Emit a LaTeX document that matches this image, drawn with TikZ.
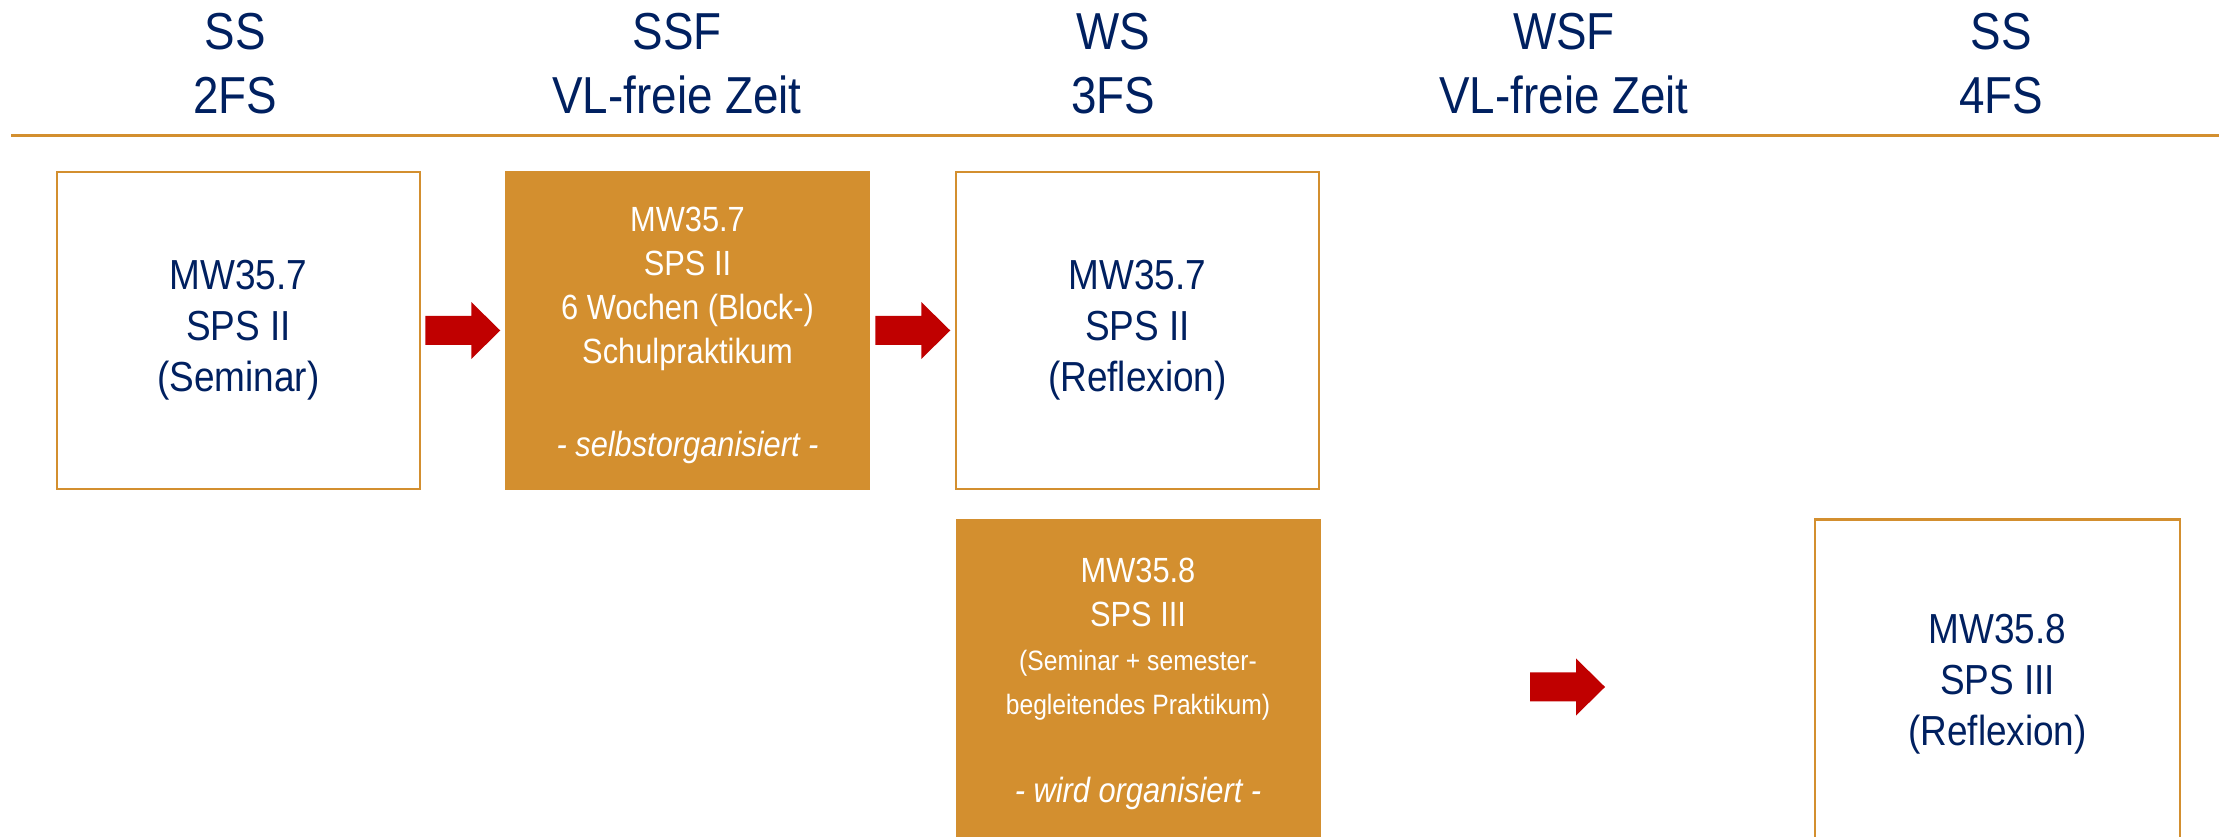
\documentclass[tikz,border=0pt]{standalone}
\usepackage{fontspec}
\setmainfont[FakeStretch=0.88]{Liberation Sans}
\usetikzlibrary{calc}
\definecolor{navy}{HTML}{002060}
\definecolor{gold}{HTML}{D38F2F}
\definecolor{arrowred}{HTML}{C00000}
\begin{document}
\begin{tikzpicture}[x=0.3pt,y=-0.3pt,
 hdr/.style={text=navy, align=center, font=\fontsize{15.6}{19.2}\selectfont, inner sep=0pt},
 openbox/.style={draw=gold, line width=0.7pt, fill=white, text=navy, align=center,
   font=\fontsize{12.6}{15.3}\selectfont, minimum width=108.9pt, minimum height=95.1pt, inner sep=0pt},
 fullbox/.style={fill=gold, text=white, align=center,
   font=\fontsize{10.5}{13.2}\selectfont, minimum width=109.5pt, minimum height=95.7pt, inner sep=0pt},
 tallbox/.style={minimum width=109.5pt, minimum height=99pt},
 blockarrow/.pic={\fill[arrowred] (-37.5,-14.5) -- (8.5,-14.5) -- (8.5,-28.5) -- (37.5,0) -- (8.5,28.5) -- (8.5,14.5) -- (-37.5,14.5) -- cycle;}]
\useasboundingbox (0,0) rectangle (2224,837);
\clip (0,0) rectangle (2224,837);

% headers
\node[hdr] (h1) at (235,64) {SS\\2FS};
\node[hdr] (h2) at (677,64) {SSF\\VL-freie Zeit};
\node[hdr] (h3) at (1113,64) {WS\\3FS};
\node[hdr] (h4) at (1564,64) {WSF\\VL-freie Zeit};
\node[hdr] (h5) at (2001,64) {SS\\4FS};
\coordinate (l1) at (11,136);
\coordinate (l2) at (2219,136);
\draw[gold, line width=0.9pt] (l1) -- (l2);

% boxes
\node[openbox] (b1) at (238.5,330.5) {MW35.7\\SPS II\\(Seminar)};
\node[fullbox] (b2) at (687.5,330.5) {};
\node[text=white, align=center, font=\fontsize{10.5}{13.2}\selectfont, inner sep=0pt] (t2) at ($(b2.center)+(0,5)$) {MW35.7\\SPS II\\6 Wochen (Block-)\\Schulpraktikum\\[14.5pt]\textit{- selbstorganisiert -}};
\node[openbox] (b3) at (1137.5,330.5) {MW35.7\\SPS II\\(Reflexion)};
\node[fullbox, tallbox] (b4) at (1138,684) {MW35.8\\SPS III\\{\fontsize{8.4}{11.1}\selectfont (Seminar + semester-}\\{\fontsize{8.4}{11.1}\selectfont begleitendes Praktikum)}\\[13.2pt]\textit{- wird organisiert -}};
\node[openbox, tallbox] (b5) at (1997.5,684.5) {MW35.8\\SPS III\\(Reflexion)};

% arrows
\coordinate (a1) at ($(b1.east)!0.5!(b2.west)$);
\coordinate (a2) at ($(b2.east)!0.5!(b3.west)$);
\coordinate (a3) at ($(b4.east |- 0,687)!0.5!(b5.west |- 0,687)$);
\pic at (a1) {blockarrow};
\pic at (a2) {blockarrow};
\pic at (a3) {blockarrow};
\end{tikzpicture}
\end{document}
